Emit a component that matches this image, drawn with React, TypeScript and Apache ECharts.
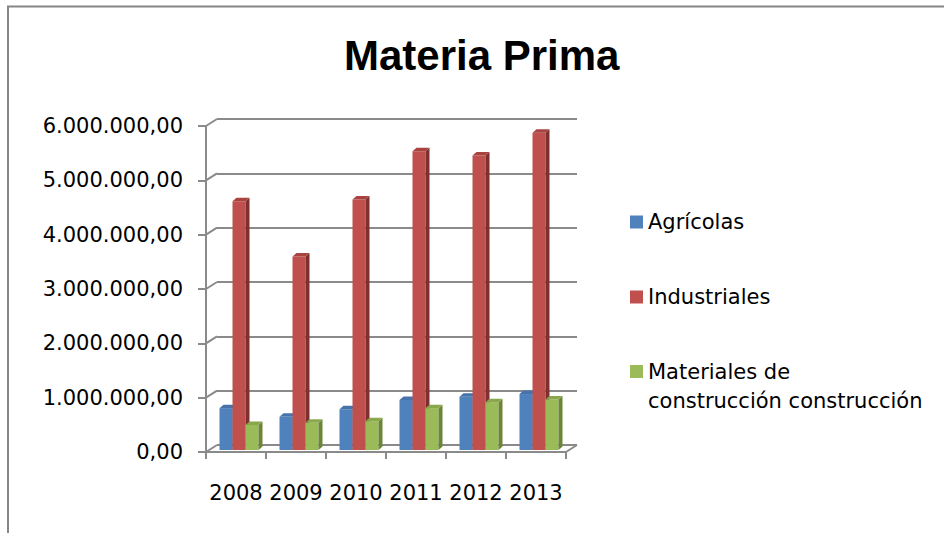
import React, { useEffect, useRef } from "react";
import * as echarts from "echarts";

const years = ["2008", "2009", "2010", "2011", "2012", "2013"];
const agricolas = [770000, 610000, 750000, 920000, 980000, 1030000];
const industriales = [4580000, 3560000, 4610000, 5500000, 5420000, 5840000];
const materiales = [460000, 500000, 530000, 770000, 880000, 930000];
const yTicks = [0, 1000000, 2000000, 3000000, 4000000, 5000000, 6000000];
const seriesNames = ["Agrícolas", "Industriales", "Materiales de construcción construcción"];

const FRONT = ["#4F81BD", "#C0504D", "#9BBB59"];
const SIDE = ["#385D8A", "#7E302E", "#6C8638"];
const TOP = ["#4673AA", "#A9433F", "#89A84C"];
const GRID_COLOR = "#8A8A8A";
const BW = 13;
const DX = 4;
const DY = 3.5;
const FONT = "DejaVu Sans";

function fmt(v: number): string {
  const s = Math.round(v).toString().replace(/\B(?=(\d{3})+(?!\d))/g, ".");
  return s + ",00";
}

function make3D(k: number) {
  return (params: any, api: any) => {
    const idx = api.value(0);
    const v = api.value(1);
    const top = api.coord([idx, v]);
    const base = api.coord([idx, 0]);
    const left = top[0] - 1.5 * BW + k * BW;
    const right = left + BW;
    const t = top[1];
    const b = base[1];
    return {
      type: "group",
      children: [
        {
          type: "polygon",
          shape: { points: [[right, t], [right + DX, t - DY], [right + DX, b - DY], [right, b]] },
          style: { fill: SIDE[k] },
        },
        {
          type: "polygon",
          shape: { points: [[left, t], [left + DX, t - DY], [right + DX, t - DY], [right, t]] },
          style: { fill: TOP[k] },
        },
      ],
    };
  };
}

export default function App() {
  const ref = useRef<HTMLDivElement>(null);
  useEffect(() => {
    document.body.style.margin = "0";
    const chart = echarts.init(ref.current!, null, { renderer: "svg" });
    const valueSets = [agricolas, industriales, materiales];
    const barSeries: any[] = [];
    valueSets.forEach((vals, k) => {
      barSeries.push({
        name: seriesNames[k],
        type: "bar",
        xAxisIndex: 2,
        yAxisIndex: 2,
        barWidth: BW,
        barGap: "0%",
        z: 2 + k * 2,
        itemStyle: { color: FRONT[k] },
        data: vals,
      });
      barSeries.push({
        name: "3d-" + k,
        type: "custom",
        xAxisIndex: 2,
        yAxisIndex: 2,
        z: 3 + k * 2,
        silent: true,
        renderItem: make3D(k),
        data: vals.map((v, i) => [i, v]),
      });
    });
    const legendText = { fontFamily: FONT, fontSize: 21, color: "#000", lineHeight: 29 };
    const option: any = {
      animation: false,
      backgroundColor: "#ffffff",
      title: {
        text: "Materia Prima",
        left: 339,
        top: 29,
        textStyle: { fontFamily: "Liberation Sans", fontWeight: "bold", fontSize: 42, color: "#000" },
      },
      legend: [
        {
          data: [seriesNames[0]],
          orient: "vertical",
          left: 630,
          top: 207.5,
          padding: 0,
          icon: "rect",
          itemWidth: 13,
          itemHeight: 13,
          textStyle: legendText,
        },
        {
          data: [seriesNames[1]],
          orient: "vertical",
          left: 630,
          top: 282.5,
          padding: 0,
          icon: "rect",
          itemWidth: 13,
          itemHeight: 13,
          textStyle: legendText,
        },
        {
          data: [seriesNames[2]],
          orient: "vertical",
          left: 630,
          top: 328,
          padding: 0,
          icon: "rect",
          itemWidth: 13,
          itemHeight: 13,
          formatter: () => " \nMateriales de\nconstrucción construcción",
          textStyle: legendText,
        },
      ],
      graphic: [
        {
          type: "rect",
          shape: { x: 8, y: 6.5, width: 1200, height: 1200 },
          style: { fill: "none", stroke: "#868686", lineWidth: 2 },
          silent: true,
        },
      ],
      grid: [
        { left: 217, top: 119, width: 360, height: 326 },
        { left: 206, top: 126, width: 360, height: 326 },
        { left: 209, top: 124, width: 360, height: 326 },
      ],
      xAxis: [
        { type: "category", gridIndex: 0, data: years, show: false },
        {
          type: "category",
          gridIndex: 1,
          data: years,
          axisLine: { show: true, lineStyle: { color: GRID_COLOR, width: 2 } },
          axisTick: { show: true, length: 7, interval: 0, lineStyle: { color: GRID_COLOR, width: 2 } },
          axisLabel: { fontFamily: FONT, fontSize: 21, color: "#000", margin: 30, interval: 0 },
        },
        { type: "category", gridIndex: 2, data: years, show: false },
      ],
      yAxis: [
        {
          type: "value",
          gridIndex: 0,
          min: 0,
          max: 6000000,
          interval: 1000000,
          axisLine: { show: false },
          axisTick: { show: false },
          axisLabel: { show: false },
          splitLine: { show: true, lineStyle: { color: GRID_COLOR, width: 2 } },
        },
        {
          type: "value",
          gridIndex: 1,
          min: 0,
          max: 6000000,
          interval: 1000000,
          axisLine: { show: true, lineStyle: { color: GRID_COLOR, width: 2 } },
          axisTick: { show: true, length: 8, lineStyle: { color: GRID_COLOR, width: 2 } },
          axisLabel: { fontFamily: FONT, fontSize: 21, color: "#000", margin: 23, formatter: (v: number) => fmt(v) },
          splitLine: { show: false },
        },
        {
          type: "value",
          gridIndex: 2,
          min: 0,
          max: 6000000,
          interval: 1000000,
          show: false,
          splitLine: { show: false },
        },
      ],
      series: [
        {
          name: "connectors",
          type: "custom",
          xAxisIndex: 1,
          yAxisIndex: 1,
          z: 1,
          silent: true,
          renderItem: (params: any, api: any) => {
            const v = api.value(1);
            const p = api.coord([0, v]);
            const cs = params.coordSys;
            const x0 = cs.x;
            const children: any[] = [
              {
                type: "line",
                shape: { x1: x0, y1: p[1], x2: x0 + 11, y2: p[1] - 7 },
                style: { stroke: GRID_COLOR, lineWidth: 2 },
              },
            ];
            if (v === 0) {
              const x1 = cs.x + cs.width;
              children.push({
                type: "line",
                shape: { x1: x1, y1: p[1], x2: x1 + 11, y2: p[1] - 7 },
                style: { stroke: GRID_COLOR, lineWidth: 2 },
              });
            }
            return { type: "group", children };
          },
          data: yTicks.map((v) => [0, v]),
        },
        ...barSeries,
      ],
    };
    chart.setOption(option);
    return () => chart.dispose();
  }, []);
  return <div ref={ref} style={{ width: 944, height: 533 }} />;
}
